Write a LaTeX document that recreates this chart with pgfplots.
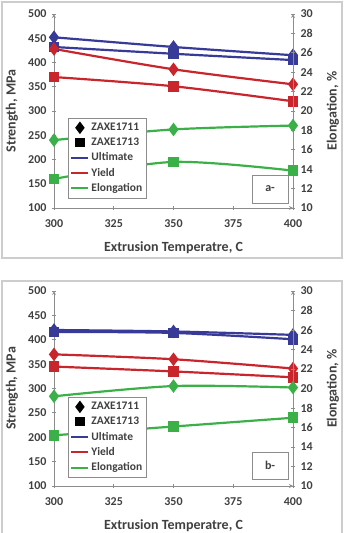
\documentclass[border=0pt]{standalone}
\usepackage{pgfplots}
\pgfplotsset{compat=1.18}
\usepackage{fontspec}
\setmainfont{Carlito}
\definecolor{cblue}{RGB}{56,58,152}
\definecolor{cred}{RGB}{200,38,44}
\definecolor{cgreen}{RGB}{60,176,72}
\definecolor{axgray}{RGB}{140,140,140}
\definecolor{frgray}{RGB}{205,205,205}
\definecolor{txt}{RGB}{64,64,64}
\newcommand{\tf}{\fontsize{12}{14}\selectfont\bfseries}
\newcommand{\lfont}{\fontsize{14}{16}\selectfont\bfseries}
\newcommand{\gfont}{\fontsize{11.5}{12}\selectfont\bfseries}
\pgfplotsset{
  base/.style={scale only axis, width=239pt, xmin=300, xmax=400,
    tick align=outside, major tick length=4pt,
    axis line style={draw=axgray, line width=0.8pt, -},
    tick style={draw=axgray, line width=0.8pt},
    every tick label/.append style={text=txt},
    every axis label/.append style={text=txt},
    every axis plot/.append style={line width=2.2pt, smooth, tension=0.5}},
  leftax/.style={base, axis x line=bottom, axis y line=left,
    ymin=100, ymax=500, ytick={100,150,...,500}, xtick={300,325,...,400},
    xticklabels={\tf 300,\tf 325,\tf 350,\tf 375,\tf 400},
    yticklabels={\tf 100,\tf 150,\tf 200,\tf 250,\tf 300,\tf 350,\tf 400,\tf 450,\tf 500},
    every x tick label/.append style={yshift=-6pt},
    every y tick label/.append style={xshift=-2pt},
    xlabel={\lfont Extrusion Temperatre, C}, ylabel={\lfont Strength, MPa},
    every axis x label/.style={at={(rel axis cs:0.5,0)}, yshift=-40pt, anchor=center, text=txt},
    every axis y label/.style={at={(rel axis cs:0,0.5)}, xshift=-42pt, rotate=90, anchor=center, text=txt}},
  rightax/.style={base, axis x line=none, axis y line=right,
    ymin=10, ymax=30, ytick={10,12,...,30},
    yticklabels={\tf 10,\tf 12,\tf 14,\tf 16,\tf 18,\tf 20,\tf 22,\tf 24,\tf 26,\tf 28,\tf 30},
    every y tick label/.append style={xshift=2pt},
    ylabel={\lfont Elongation, \%},
    every axis y label/.style={at={(rel axis cs:1,0.5)}, xshift=40pt, rotate=90, anchor=center, text=txt},
    legend style={draw=axgray, fill=white, line width=0.6pt,
      text=txt, row sep=1.8pt, inner xsep=2pt, inner ysep=3pt},
    legend cell align=left},
  dia/.style={mark=diamond*, mark size=5pt},
  sq/.style={mark=square*, mark size=4.2pt},
}
\begin{document}
\begin{tikzpicture}
\useasboundingbox (0pt,0pt) rectangle (346pt,533pt);
\draw[frgray, line width=1.4pt] (2pt,275pt) rectangle (342pt,531pt);
\draw[frgray, line width=1.4pt] (2pt,-10pt) rectangle (342pt,252pt);
% ---------- panel a ----------
\begin{axis}[leftax, height=194pt, at={(54pt,325pt)}, anchor=south west]
\addplot[cblue, dia] coordinates {(300,452) (350,432) (400,415)};
\addplot[cblue, sq] coordinates {(300,432) (350,418) (400,405)};
\addplot[cred, dia] coordinates {(300,428) (350,386) (400,355)};
\addplot[cred, sq] coordinates {(300,370) (350,351) (400,320)};
\end{axis}
\begin{axis}[rightax, height=194pt, at={(54pt,325pt)}, anchor=south west,
  legend style={at={(0.059,0.464)}, anchor=north west}]
\addplot[cgreen, dia, forget plot] coordinates {(300,17.0) (350,18.1) (400,18.5)};
\addplot[cgreen, sq, forget plot] coordinates {(300,13.0) (350,14.75) (400,13.85)};
\addlegendimage{only marks, mark=diamond*, mark size=4.5pt, black}
\addlegendentry{\gfont ZAXE1711}
\addlegendimage{only marks, mark=square*, mark size=3.6pt, black}
\addlegendentry{\gfont ZAXE1713}
\addlegendimage{cblue, line width=2pt}
\addlegendentry{\gfont Ultimate}
\addlegendimage{cred, line width=2pt}
\addlegendentry{\gfont Yield}
\addlegendimage{cgreen, line width=2pt}
\addlegendentry{\gfont Elongation}
\node[draw=axgray, fill=white, line width=0.6pt, minimum width=36pt, minimum height=28pt,
  text=txt] at (rel axis cs:0.904,0.098) {\fontsize{12}{14}\selectfont\bfseries a-};
\end{axis}
% ---------- panel b ----------
\begin{axis}[leftax, height=195pt, at={(54pt,47pt)}, anchor=south west]
\addplot[cblue, dia] coordinates {(300,420) (350,417) (400,410)};
\addplot[cblue, sq] coordinates {(300,416) (350,414) (400,401)};
\addplot[cred, dia] coordinates {(300,370) (350,360) (400,341)};
\addplot[cred, sq] coordinates {(300,345) (350,335) (400,323)};
\end{axis}
\begin{axis}[rightax, height=195pt, at={(54pt,47pt)}, anchor=south west,
  legend style={at={(0.059,0.456)}, anchor=north west}]
\addplot[cgreen, dia, forget plot] coordinates {(300,19.2) (350,20.25) (400,20.1)};
\addplot[cgreen, sq, forget plot] coordinates {(300,15.2) (350,16.1) (400,17.0)};
\addlegendimage{only marks, mark=diamond*, mark size=4.5pt, black}
\addlegendentry{\gfont ZAXE1711}
\addlegendimage{only marks, mark=square*, mark size=3.6pt, black}
\addlegendentry{\gfont ZAXE1713}
\addlegendimage{cblue, line width=2pt}
\addlegendentry{\gfont Ultimate}
\addlegendimage{cred, line width=2pt}
\addlegendentry{\gfont Yield}
\addlegendimage{cgreen, line width=2pt}
\addlegendentry{\gfont Elongation}
\node[draw=axgray, fill=white, line width=0.6pt, minimum width=36pt, minimum height=27pt,
  text=txt] at (rel axis cs:0.904,0.105) {\fontsize{12}{14}\selectfont\bfseries b-};
\end{axis}
\end{tikzpicture}
\end{document}
